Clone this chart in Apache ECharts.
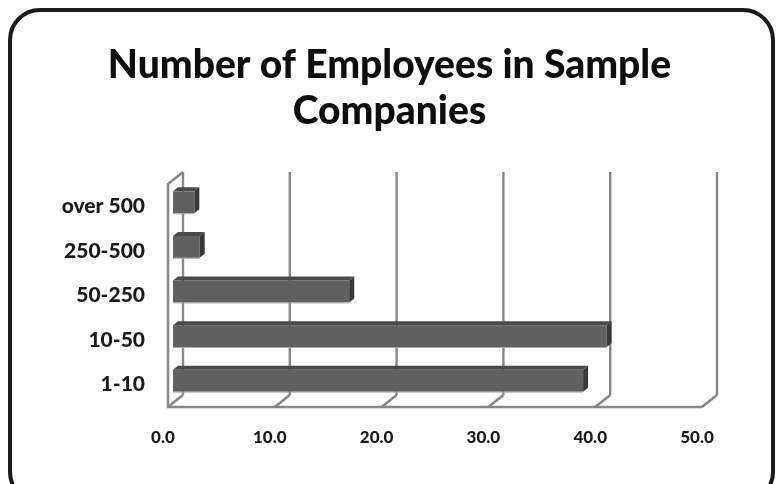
<!DOCTYPE html>
<html>
<head>
<meta charset="utf-8">
<script src="https://cdn.jsdelivr.net/npm/echarts@6/dist/echarts.min.js"></script>
<style>
  html, body { margin: 0; padding: 0; background: #ffffff; }
  #chart { width: 779px; height: 484px; }
</style>
</head>
<body>
<div id="chart"></div>
<script>
// Company size bands (bottom to top) and share of sample companies (%)
const categories = ['1-10', '10-50', '50-250', '250-500', 'over 500'];
const shares = [38.4, 40.6, 16.5, 2.5, 2.0];
// Value-axis ticks
const ticks = [0, 10, 20, 30, 40, 50];

// Depth of the 3D box (back wall offset from the front plane)
const DEPTH_X = 15, DEPTH_Y = 12;
// Bars sit between 1/3 and 2/3 of the depth
const BAR_DX = 5, BAR_DY = 4;

const FRAME = '#878787';

function renderFrame(params, api) {
  const cs = params.coordSys;
  const v = api.value(0);
  const x = api.coord([v, 0])[0];
  const top = cs.y, bottom = cs.y + cs.height;
  const children = [
    // gridline on the back wall
    { type: 'line', shape: { x1: x + DEPTH_X, y1: top - DEPTH_Y, x2: x + DEPTH_X, y2: bottom - DEPTH_Y },
      style: { stroke: FRAME, lineWidth: 2.4 } },
    // floor tick running from the front edge to the back wall
    { type: 'line', shape: { x1: x, y1: bottom, x2: x + DEPTH_X, y2: bottom - DEPTH_Y },
      style: { stroke: FRAME, lineWidth: 2.6 } }
  ];
  if (params.dataIndex === 0) {
    // left side wall and the front edge of the floor
    const xEnd = api.coord([ticks[ticks.length - 1], 0])[0];
    children.push(
      { type: 'polyline', shape: { points: [[x + DEPTH_X, top - DEPTH_Y], [x, top], [x, bottom], [xEnd, bottom]] },
        style: { stroke: FRAME, lineWidth: 2.6, fill: null } }
    );
  }
  return { type: 'group', children };
}

function renderBar(params, api) {
  const v = api.value(0);
  const idx = api.value(1);
  const p0 = api.coord([0, idx]);
  const p1 = api.coord([v, idx]);
  const h = api.size([0, 1])[1] * 0.49;
  const x0 = p0[0] + BAR_DX, x1 = p1[0] + BAR_DX;
  const yc = p0[1] - BAR_DY;
  const yT = yc - h / 2, yB = yc + h / 2;
  return {
    type: 'group',
    children: [
      // front face
      { type: 'rect', shape: { x: x0, y: yT, width: x1 - x0, height: h },
        style: { fill: '#606060' } },
      // lower highlight edge
      { type: 'line', shape: { x1: x0, y1: yB + 0.5, x2: x1, y2: yB + 0.5 },
        style: { stroke: '#a8a8a8', lineWidth: 1 } },
      // top face
      { type: 'polygon', shape: { points: [[x0, yT], [x1, yT], [x1 + BAR_DX, yT - BAR_DY], [x0 + BAR_DX, yT - BAR_DY]] },
        style: { fill: '#4a4a4a' } },
      // end face
      { type: 'polygon', shape: { points: [[x1, yT], [x1 + BAR_DX, yT - BAR_DY], [x1 + BAR_DX, yB - BAR_DY], [x1, yB]] },
        style: { fill: '#383838' } }
    ]
  };
}

const chart = echarts.init(document.getElementById('chart'), null, { renderer: 'canvas' });
chart.setOption({
  animation: false,
  backgroundColor: '#ffffff',
  title: {
    text: 'Number of Employees in Sample\nCompanies',
    left: 'center',
    top: 37,
    textStyle: {
      fontFamily: 'Lato',
      fontWeight: 900,
      fontSize: 39,
      lineHeight: 46,
      color: '#0d0d0d'
    }
  },
  graphic: [{
    type: 'rect',
    shape: { x: 10, y: 10, width: 763, height: 492, r: 30 },
    style: { fill: null, stroke: '#1b1b1b', lineWidth: 4 },
    z: 100
  }],
  grid: { left: 168, right: 77, top: 184, bottom: 77 },
  xAxis: {
    type: 'value',
    min: 0,
    max: 50,
    interval: 10,
    axisLine: { show: false },
    axisTick: { show: false },
    splitLine: { show: false },
    axisLabel: {
      margin: 22,
      padding: [0, 10, 0, 0],
      fontFamily: 'Lato',
      fontWeight: 900,
      fontSize: 17,
      color: '#1a1a1a',
      formatter: v => v.toFixed(1)
    }
  },
  yAxis: {
    type: 'category',
    data: categories,
    axisLine: { show: false },
    axisTick: { show: false },
    splitLine: { show: false },
    axisLabel: {
      margin: 23,
      fontFamily: 'Lato',
      fontWeight: 900,
      fontSize: 21,
      color: '#1a1a1a'
    }
  },
  series: [
    {
      type: 'custom',
      name: 'frame',
      clip: false,
      silent: true,
      renderItem: renderFrame,
      encode: { x: 0, y: 1 },
      data: ticks.map(t => [t, 0]),
      z: 1
    },
    {
      type: 'custom',
      name: 'Share of companies',
      clip: false,
      renderItem: renderBar,
      encode: { x: 0, y: 1 },
      data: shares.map((v, i) => [v, i]),
      z: 2
    }
  ]
});
</script>
</body>
</html>
